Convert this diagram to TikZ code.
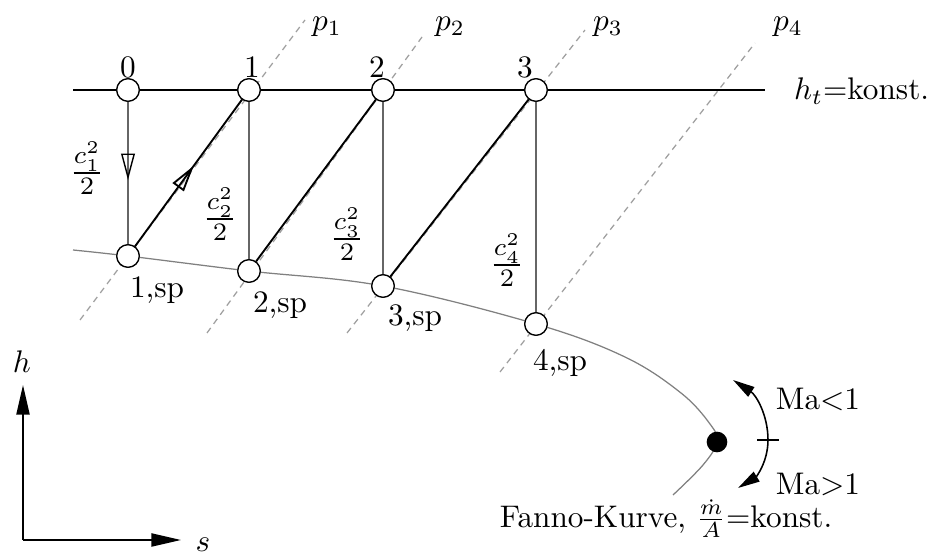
\documentclass[tikz,border=0pt]{standalone}
\usetikzlibrary{arrows.meta,decorations.markings}

\begin{document}
\begin{tikzpicture}[x=0.32pt,y=-0.32pt,
    state/.style={circle,draw,fill=white,inner sep=0pt,minimum size=7.2pt},
    isobar/.style={gray!75,line width=0.4pt,dash pattern=on 2pt off 1.6pt},
    vline/.style={gray!80!black,line width=0.45pt},
    dline/.style={line width=0.6pt},
    frac/.style={scale=1.15,inner sep=1pt},
    midarrow/.style={postaction={decorate,decoration={markings,
        mark=at position 0.55 with {\arrow[black]{Triangle[open,length=8.5pt,width=4.4pt]}}}}},
    axis/.style={-{Triangle[length=9.5pt,width=4.2pt]},line width=0.6pt},
    maarrow/.style={-{Triangle[length=7pt,width=3.6pt]},line width=0.5pt}]
    \useasboundingbox (0,0) rectangle (935,554);

    % isobars
    \draw[isobar] (80,320) -- (305,20);
    \draw[isobar] (207,333) -- (422,37);
    \draw[isobar] (347,333) -- (585,30);
    \draw[isobar] (500,372) -- (755,43);
    \node (p1) at (327,27) {$p_1$};
    \node (p2) at (450,27) {$p_2$};
    \node (p3) at (608,27) {$p_3$};
    \node (p4) at (788,27) {$p_4$};

    % states
    \node[state] (t0) at (128,90) {};
    \node[state] (t1) at (249,90) {};
    \node[state] (t2) at (383,90) {};
    \node[state] (t3) at (536,90) {};
    \node[state] (sp1) at (128,256) {};
    \node[state] (sp2) at (249,271) {};
    \node[state] (sp3) at (383,286) {};
    \node[state] (sp4) at (536,324) {};
    \coordinate (left) at (73,90);
    \coordinate (right) at (765,90);

    % Fanno curve
    \draw[gray,line width=0.4pt] plot[smooth,tension=0.6] coordinates {(73,250) (sp1.center) (sp2.center)
        (sp3.center) (sp4.center) (625,357) (681,393) (710,424) (717,442) (703,465) (673,495)};

    % h_t = konst.
    \draw[dline] (left) -- (t0) -- (t1) -- (t2) -- (t3) -- (right);
    \node[anchor=west] (ht) at (783,91) {$h_t{=}$konst.};

    % steps
    \draw[vline,midarrow] (t0) -- (sp1);
    \draw[dline,midarrow] (sp1) -- (t1);
    \draw[vline] (t1) -- (sp2);
    \draw[dline] (sp2) -- (t2);
    \draw[vline] (t2) -- (sp3);
    \draw[dline] (sp3) -- (t3);
    \draw[vline] (t3) -- (sp4);
    \foreach \n in {t0,t1,t2,t3,sp1,sp2,sp3,sp4}
        \node[state] at (\n) {};

    % labels
    \node (l0) at (128,67) {0};
    \node (l1) at (252,67) {1};
    \node (l2) at (377,67) {2};
    \node (l3) at (525,67) {3};
    \node (lsp1) at (157,290) {1,sp};
    \node (lsp2) at (280,305) {2,sp};
    \node (lsp3) at (415,318) {3,sp};
    \node (lsp4) at (560,363) {4,sp};
    \node[frac] (c1) at (87,168) {$\frac{c_1^2}{2}$};
    \node[frac] (c2) at (220,214) {$\frac{c_2^2}{2}$};
    \node[frac] (c3) at (347,234) {$\frac{c_3^2}{2}$};
    \node[frac] (c4) at (507,260) {$\frac{c_4^2}{2}$};

    % critical point
    \node[circle,fill,inner sep=0pt,minimum size=6.6pt] (crit) at (717,442) {};
    \coordinate (ma) at (768,440);
    \coordinate (sub) at (733,380);
    \coordinate (sup) at (738,488);
    \draw[maarrow] (ma) .. controls (768,415) and (756,395) .. (sub);
    \draw[maarrow] (ma) .. controls (768,462) and (756,477) .. (sup);
    \draw[line width=0.5pt] (757,440) -- (779,440);
    \node (malow) at (818,399) {Ma$<$1};
    \node[inner sep=1pt] (mahigh) at (818,484) {Ma$>$1};
    \node[inner sep=1pt] (fanno) at (666,519) {Fanno-Kurve, $\frac{\dot m}{A}{=}$konst.};

    % axes
    \coordinate (o) at (23,540);
    \coordinate (hend) at (23,385);
    \coordinate (send) at (181,540);
    \draw[axis] (o) -- (hend);
    \draw[axis] (o) -- (send);
    \node (h) at (22,362) {$h$};
    \node (s) at (203,545) {$s$};
\end{tikzpicture}
\end{document}
